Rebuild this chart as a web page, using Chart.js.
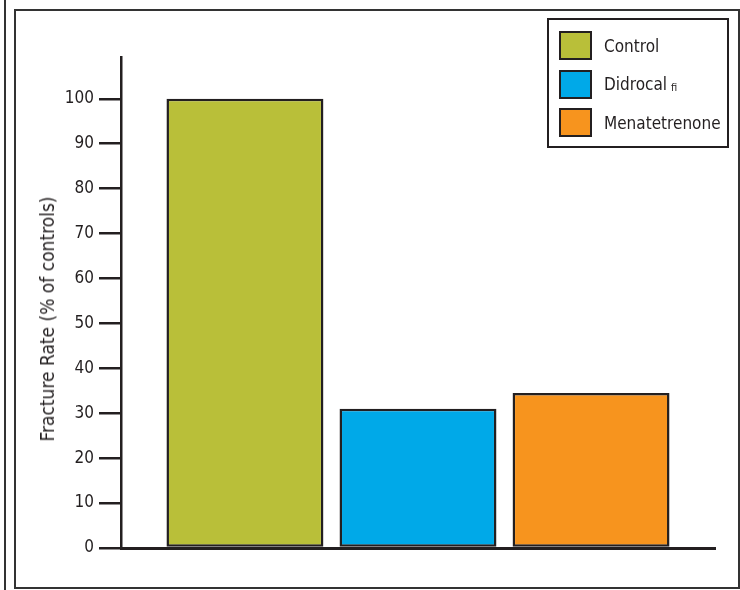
<!DOCTYPE html>
<html>
<head>
<meta charset="utf-8">
<script src="https://cdn.jsdelivr.net/npm/chart.js@4"></script>
<style>
body { margin: 0; background: #fff; }
#wrap { position: relative; width: 740px; height: 590px; overflow: hidden;
        font-family: "Liberation Sans Narrow", "DejaVu Sans Condensed", sans-serif; color: #231f20; }
#sideLine { position: absolute; left: 4px; top: 0; width: 2px; height: 590px; background: #333; }
#frame { position: absolute; left: 14px; top: 9px; width: 726px; height: 580px;
         border: 2px solid #333; box-sizing: border-box; }
#chart { position: absolute; left: 0; top: 0; }
#yTitle { position: absolute; left: 47px; top: 319px; transform: translate(-50%, -50%) rotate(-90deg);
          white-space: nowrap; font-size: 19px; }
#legend { position: absolute; left: 547px; top: 18px; width: 182px; height: 130px;
          border: 2px solid #231f20; box-sizing: border-box; }
.item { position: absolute; left: 10px; height: 29px; display: flex; align-items: center; font-size: 17px; }
.swatch { width: 33px; height: 29px; border: 2px solid #231f20; box-sizing: border-box; margin-right: 12px; }
.item small { font-size: 11px; margin-left: 4px; position: relative; top: 3px; }
</style>
</head>
<body>
<div id="wrap">
  <div id="sideLine"></div>
  <div id="frame"></div>
  <canvas id="chart" width="740" height="590"></canvas>
  <div id="yTitle">Fracture Rate (% of controls)</div>
  <div id="legend"></div>
</div>
<script>
// Data
const seriesNames = ['Control', 'Didrocal', 'Menatetrenone'];
const seriesSuffix = ['', 'fi', ''];
const fractureRates = [100, 31, 34.5];
const barColors = ['#b9bf39', '#00a9e8', '#f7941e'];
const yTicks = [0, 10, 20, 30, 40, 50, 60, 70, 80, 90, 100];

const ink = '#231f20';
const fontFamily = '"Liberation Sans Narrow", "DejaVu Sans Condensed", sans-serif';

const ctx = document.getElementById('chart').getContext('2d');
const myChart = new Chart(ctx, {
    type: 'bar',
    data: {
        labels: [''],
        datasets: seriesNames.map((name, i) => ({
            label: name,
            data: [fractureRates[i]],
            backgroundColor: barColors[i],
            borderColor: ink,
            borderWidth: 2.5,
            borderSkipped: false,
            categoryPercentage: 0.874,
            barPercentage: 0.907
        }))
    },
    options: {
        responsive: false,
        animation: false,
        layout: { padding: { left: 0, top: 57, right: 25, bottom: 42 } },
        plugins: { legend: { display: false }, tooltip: { enabled: false } },
        scales: {
            x: {
                grid: { display: true, drawOnChartArea: false, drawTicks: false },
                ticks: { display: false },
                border: { color: ink, width: 3 },
                afterFit: scale => { scale.height = 0; }
            },
            y: {
                min: 0,
                max: 109.3,
                afterBuildTicks: scale => { scale.ticks = yTicks.map(v => ({ value: v })); },
                afterFit: scale => { scale.width = 121; },
                grid: { drawOnChartArea: false, tickLength: 22, color: ink, lineWidth: 2.5 },
                border: { color: ink, width: 2.5 },
                ticks: { padding: 5, color: ink, font: { family: fontFamily, size: 17 } }
            }
        }
    }
});

// legend box, built from the same arrays
const legend = document.getElementById('legend');
seriesNames.forEach((name, i) => {
    const item = document.createElement('div');
    item.className = 'item';
    item.style.top = (11 + i * 38.5) + 'px';
    const sw = document.createElement('div');
    sw.className = 'swatch';
    sw.style.background = barColors[i];
    item.appendChild(sw);
    item.appendChild(document.createTextNode(name));
    if (seriesSuffix[i]) {
        const s = document.createElement('small');
        s.textContent = seriesSuffix[i];
        item.appendChild(s);
    }
    legend.appendChild(item);
});
</script>
</body>
</html>
